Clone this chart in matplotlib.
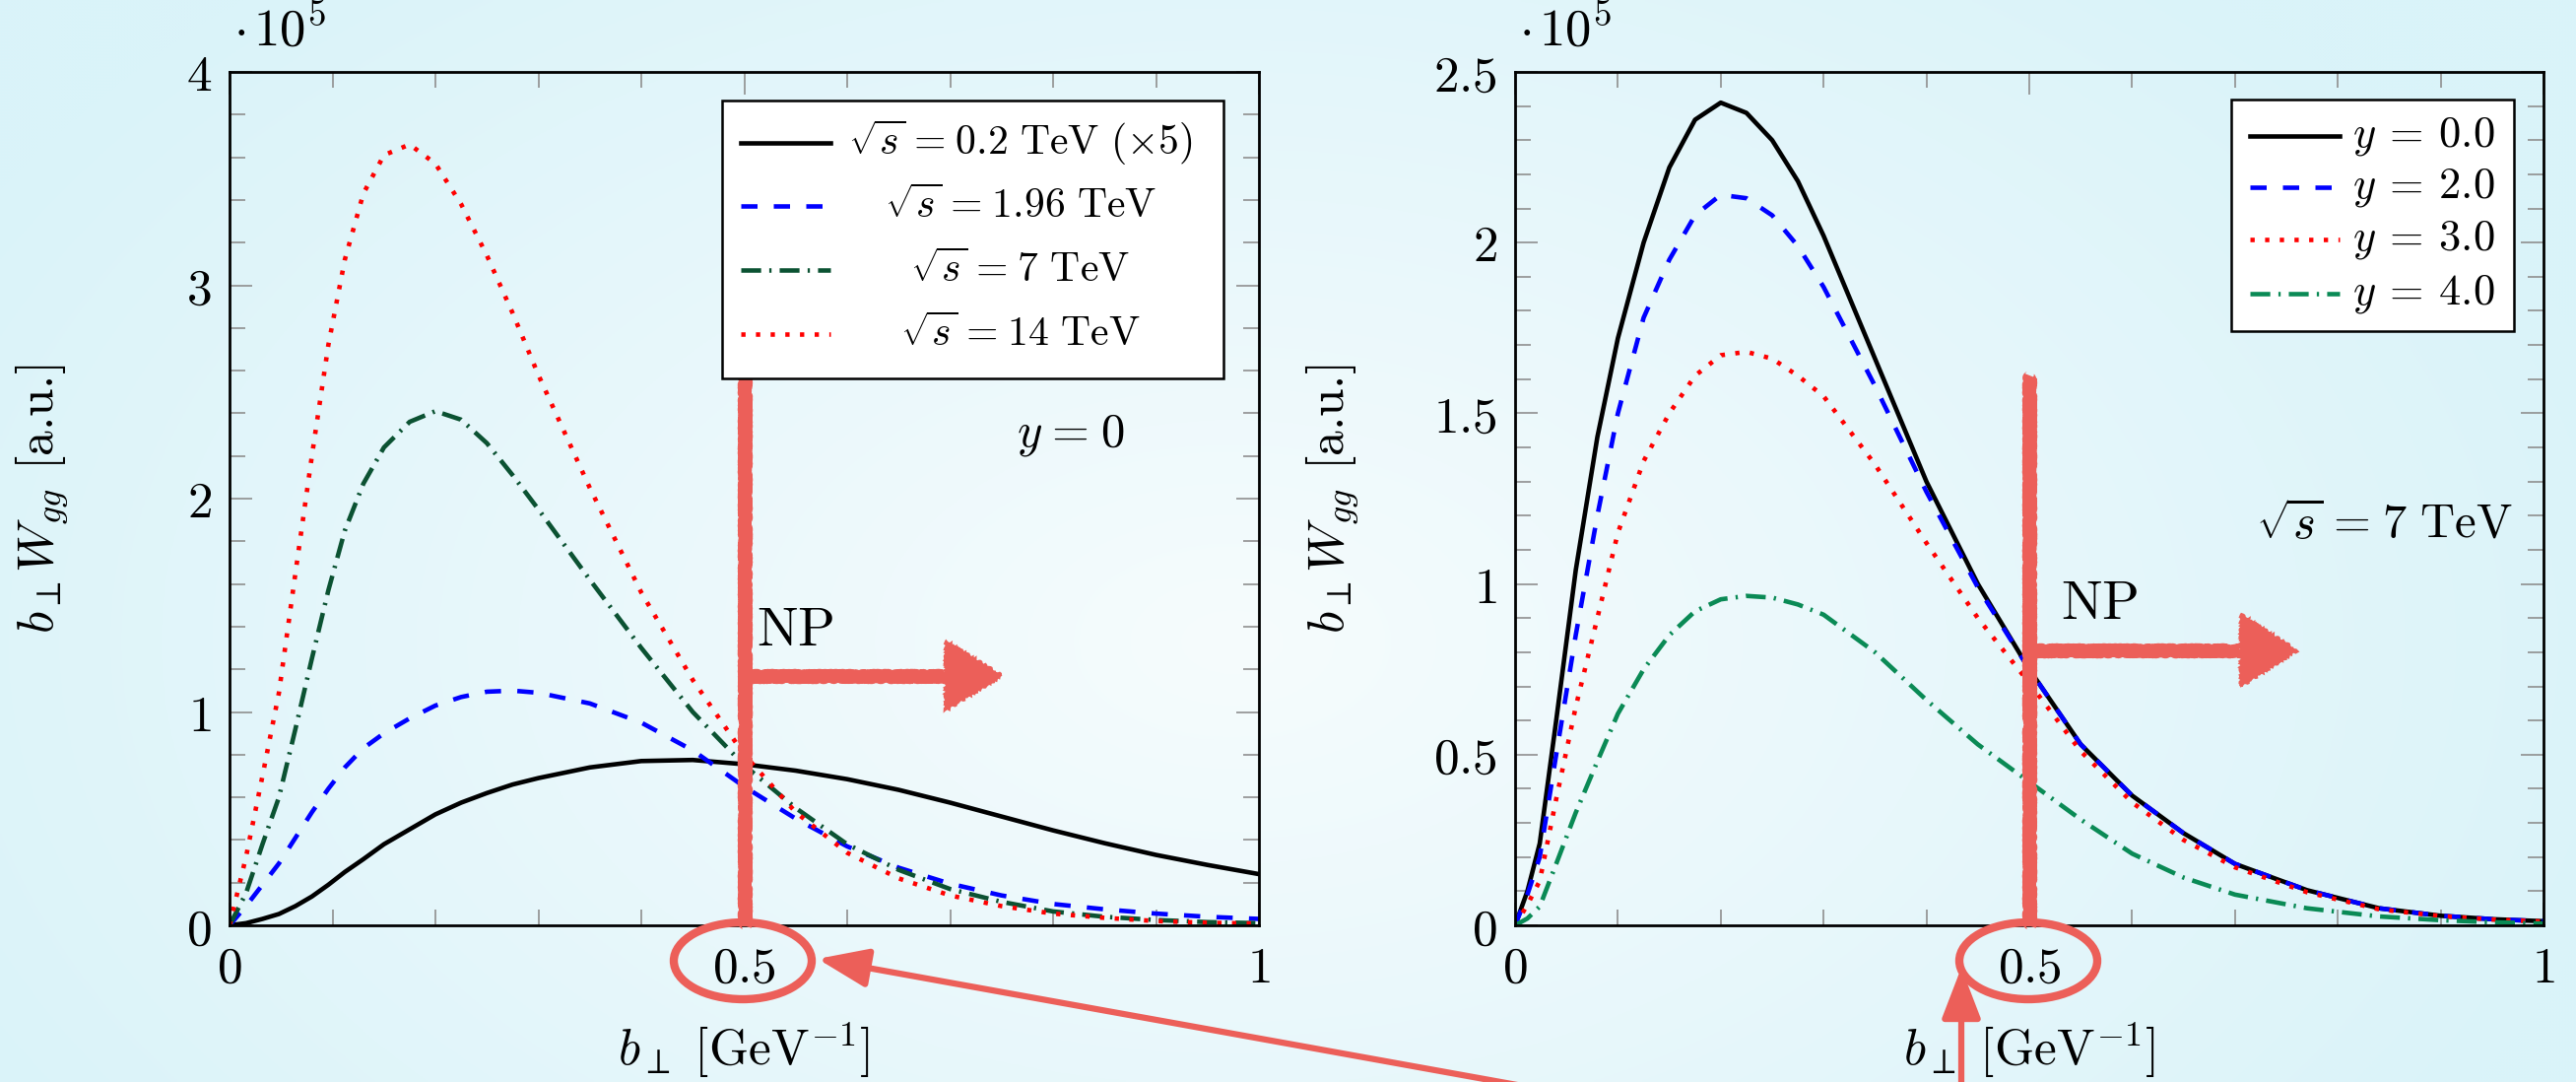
import numpy as np
import matplotlib.pyplot as plt
from matplotlib.patches import Ellipse, Rectangle, Polygon

plt.rcParams['mathtext.fontset'] = 'cm'
plt.rcParams['font.family'] = 'serif'
plt.rcParams['font.serif'] = ['DejaVu Serif']

########################################Dados###########################################################################
# b_perp [GeV^-1], b_perp W_gg em unidades de 1e5
b_left = [0, 0.016, 0.032, 0.048, 0.064, 0.08, 0.096, 0.112, 0.13, 0.15, 0.175, 0.2, 0.225, 0.25, 0.275, 0.3,
          0.35, 0.4, 0.45, 0.5, 0.55, 0.6, 0.65, 0.7, 0.75, 0.8, 0.85, 0.9, 0.95, 1.0]
W_02 = [0, 0.01, 0.03, 0.053, 0.09, 0.135, 0.19, 0.25, 0.31, 0.38, 0.45, 0.52, 0.575, 0.62, 0.66, 0.69,
        0.74, 0.77, 0.775, 0.755, 0.725, 0.685, 0.635, 0.575, 0.51, 0.445, 0.385, 0.33, 0.283, 0.24]
W_196 = [0, 0.09, 0.19, 0.29, 0.41, 0.53, 0.64, 0.74, 0.83, 0.9, 0.97, 1.03, 1.07, 1.095, 1.1, 1.09,
         1.04, 0.95, 0.82, 0.65, 0.5, 0.37, 0.27, 0.195, 0.14, 0.1, 0.075, 0.055, 0.04, 0.03]
W_7 = [0, 0.15, 0.38, 0.6, 0.92, 1.25, 1.57, 1.85, 2.07, 2.24, 2.36, 2.41, 2.37, 2.26, 2.11, 1.95,
       1.62, 1.3, 1.0, 0.75, 0.55, 0.38, 0.26, 0.17, 0.11, 0.065, 0.04, 0.025, 0.015, 0.01]
W_14 = [0, 0.32, 0.7, 1.09, 1.65, 2.2, 2.72, 3.12, 3.43, 3.61, 3.66, 3.57, 3.38, 3.14, 2.87, 2.58,
        2.05, 1.56, 1.15, 0.8, 0.53, 0.34, 0.22, 0.14, 0.09, 0.055, 0.035, 0.02, 0.012, 0.008]

b_right = [0, 0.012, 0.024, 0.04, 0.059, 0.08, 0.1, 0.125, 0.15, 0.175, 0.2, 0.225, 0.25, 0.275, 0.3,
           0.35, 0.4, 0.45, 0.5, 0.55, 0.6, 0.65, 0.7, 0.77, 0.84, 0.9, 0.95, 1.0]
W_y0 = [0, 0.1, 0.24, 0.6, 1.04, 1.43, 1.72, 2.0, 2.22, 2.36, 2.41, 2.38, 2.3, 2.18, 2.02,
        1.66, 1.3, 1.0, 0.75, 0.53, 0.38, 0.27, 0.18, 0.103, 0.05, 0.028, 0.018, 0.012]
W_y2 = [0, 0.09, 0.2, 0.5, 0.85, 1.2, 1.5, 1.78, 1.95, 2.08, 2.14, 2.13, 2.08, 1.99, 1.87,
        1.58, 1.27, 0.99, 0.75, 0.53, 0.38, 0.27, 0.18, 0.103, 0.05, 0.028, 0.018, 0.012]
W_y3 = [0, 0.06, 0.13, 0.37, 0.64, 0.9, 1.15, 1.36, 1.5, 1.61, 1.67, 1.68, 1.66, 1.61, 1.55,
        1.35, 1.12, 0.9, 0.71, 0.51, 0.36, 0.25, 0.17, 0.097, 0.047, 0.027, 0.017, 0.011]
W_y4 = [0, 0.02, 0.055, 0.18, 0.33, 0.48, 0.62, 0.75, 0.85, 0.92, 0.955, 0.965, 0.96, 0.94, 0.91,
        0.8, 0.66, 0.53, 0.42, 0.31, 0.21, 0.14, 0.09, 0.05, 0.026, 0.015, 0.009, 0.005]

eq = r'\hspace{0.08}=\hspace{0.08}'
eq_wide = r'\hspace{0.2}=\hspace{0.2}'
labels_left = [r'$\sqrt{s}' + eq + r'0.2\ \mathrm{TeV}\ (\times 5)$', r'$\sqrt{s}' + eq + r'1.96\ \mathrm{TeV}$',
               r'$\sqrt{s}' + eq + r'7\ \mathrm{TeV}$', r'$\sqrt{s}' + eq + r'14\ \mathrm{TeV}$']
labels_right = [r'$y' + eq_wide + r'0.0$', r'$y' + eq_wide + r'2.0$', r'$y' + eq_wide + r'3.0$',
                r'$y' + eq_wide + r'4.0$']

# limite nao perturbativo (NP)
b_NP = 0.5
########################################################################################################################

W, H = 2615, 1098
red_np = '#ec5f59'
lw = 3.3
st_black = dict(color='black', lw=lw, ls='-')
st_blue = dict(color='#0000ff', lw=lw, ls=(0, (3.6, 3.6)))
st_red = dict(color='#ff0000', lw=lw, ls=(0, (0.95, 2.3)))
st_dgreen = dict(color='#0b5232', lw=lw, ls=(0, (4.4, 1.8, 0.5, 1.8)))
st_green = dict(color='#0a8a55', lw=lw, ls=(0, (4.4, 1.8, 0.5, 1.8)))

fig = plt.figure(figsize=(W / 100, H / 100), dpi=100)

# fundo em degrade
bg = fig.add_axes([0, 0, 1, 1], zorder=-10)
yy, xx = np.mgrid[0:H:3, 0:W:3]
r = np.clip(np.sqrt(((xx - 1250) / 1450) ** 2 + ((yy - 650) / 900) ** 2), 0, 1)
c_in = np.array([246, 252, 253]) / 255
c_out = np.array([218, 243, 249]) / 255
bg.imshow(c_in + (c_out - c_in) * r[..., None], extent=[0, W, H, 0], aspect='auto')
bg.set_xlim(0, W)
bg.set_ylim(H, 0)
bg.axis('off')

ax1 = fig.add_axes([233 / W, 1 - 939 / H, 1045 / W, 866 / H])
ax2 = fig.add_axes([1538 / W, 1 - 939 / H, 1044 / W, 866 / H])


def style_axes(ax, ymax, ymajor, yminor, yticklabels):
    ax.set_facecolor('none')
    ax.set_xlim(0, 1)
    ax.set_ylim(0, ymax)
    for s in ax.spines.values():
        s.set_linewidth(2)
    ax.set_xticks([0, 0.5, 1], [r'$0$', r'$0.5$', r'$1$'])
    ax.set_xticks(np.arange(0, 1.001, 0.1), minor=True)
    ax.set_yticks(np.arange(0, ymax + 1e-9, ymajor), yticklabels)
    ax.set_yticks(np.arange(0, ymax + 1e-9, yminor), minor=True)
    ax.tick_params(which='both', direction='in', top=True, right=True, color='#8f8f8f', width=1.2, labelsize=37)
    ax.tick_params(which='major', length=16.5)
    ax.tick_params(which='minor', length=11.5)
    ax.tick_params(axis='x', pad=14)
    ax.tick_params(axis='y', pad=13)
    ax.annotate(r'$\cdot\hspace{0.12}10^{5}$', xy=(0, 1), xycoords='axes fraction', xytext=(3, 11),
                textcoords='offset points', ha='left', va='bottom', fontsize=38)


def draw_legend(ax, box, rows, handle_x, text_x, text_ha, styles, labels, fs):
    ax.add_patch(Rectangle((box[0], box[1]), box[2] - box[0], box[3] - box[1], transform=ax.transAxes,
                           facecolor='white', edgecolor='black', lw=1.8, zorder=5))
    for yr, st, lab in zip(rows, styles, labels):
        ax.plot(handle_x, [yr, yr], transform=ax.transAxes, zorder=6, clip_on=False, **st)
        ax.text(text_x, yr, lab, transform=ax.transAxes, ha=text_ha, va='center', fontsize=fs, zorder=6)


def draw_np(ax, ytop, yarrow, xhead, xtip, half):
    # faixa NP em "giz"
    l1, = ax.plot([b_NP, b_NP], [0, ytop], color=red_np, lw=9.5, solid_capstyle='butt', zorder=4, clip_on=False)
    l2, = ax.plot([b_NP, xhead], [yarrow, yarrow], color=red_np, lw=9.5, solid_capstyle='butt', zorder=4)
    head = Polygon([[xhead, yarrow + half], [xhead, yarrow - half], [xtip, yarrow]], closed=True,
                   facecolor=red_np, edgecolor=red_np, lw=2, zorder=4)
    ax.add_patch(head)
    for art in (l1, l2, head):
        art.set_sketch_params(scale=1.2, length=5, randomness=4)


###########################################Painel esquerdo##############################################################
style_axes(ax1, 4, 1, 0.2, [r'$0$', r'$1$', r'$2$', r'$3$', r'$4$'])
ax1.plot(b_left, W_02, **st_black)
ax1.plot(b_left, W_196, **st_blue)
ax1.plot(b_left, W_7, **st_dgreen)
ax1.plot(b_left, W_14, **st_red)
draw_legend(ax1, (0.478, 0.641, 0.966, 0.9665), [0.917, 0.843, 0.768, 0.693], [0.497, 0.584], 0.768, 'center',
            [st_black, st_blue, st_dgreen, st_red], labels_left, 30)
ax1.text(0.817, 2.3, r'$y' + eq + r'0$', ha='center', va='center', fontsize=35)
draw_np(ax1, 2.58, 1.17, 0.696, 0.75, 0.16)
ax1.text(0.512, 1.31, r'$\mathrm{NP}$', ha='left', va='baseline', fontsize=40)

###########################################Painel direito###############################################################
style_axes(ax2, 2.5, 0.5, 0.1, [r'$0$', r'$0.5$', r'$1$', r'$1.5$', r'$2$', r'$2.5$'])
ax2.plot(b_right, W_y0, **st_black)
ax2.plot(b_right, W_y2, **st_blue)
ax2.plot(b_right, W_y3, **st_red)
ax2.plot(b_right, W_y4, **st_green)
draw_legend(ax2, (0.696, 0.696, 0.971, 0.968), [0.925, 0.865, 0.804, 0.740], [0.715, 0.802], 0.814, 'left',
            [st_black, st_blue, st_red, st_green], labels_right, 32)
ax2.text(0.845, 1.175, r'$\sqrt{s}' + eq + r'7\ \mathrm{TeV}$', ha='center', va='center', fontsize=35)
draw_np(ax2, 1.61, 0.805, 0.706, 0.76, 0.104)
ax2.text(0.531, 0.898, r'$\mathrm{NP}$', ha='left', va='baseline', fontsize=40)

# rotulos dos eixos (texto fora do modo math em cmr10)
for ax, xl in ((ax1, 43), (ax2, 1353)):
    fig.text(xl / W, 1 - 506 / H, r'$b_\perp W_{gg}$ [a.u.]', rotation=90, ha='center', va='center',
             fontsize=37, family='cmr10')
for xc in (755, 2060):
    fig.text(xc / W, 1 - 1066 / H, r'$b_\perp\ [\mathrm{GeV}^{-1}]$', ha='center', va='center', fontsize=37)

###########################################Destaques em b = 0.5########################################################
ov = fig.add_axes([0, 0, 1, 1], zorder=10)
ov.set_xlim(0, W)
ov.set_ylim(H, 0)
ov.axis('off')
ov.patch.set_alpha(0)
for xc in (754, 2059):
    ov.add_patch(Ellipse((xc, 975), 140, 78, facecolor='none', edgecolor=red_np, lw=6))
for x0, y0, x1, y1 in ((1590, 1110, 830, 973), (1991, 1110, 1991, 982)):
    ov.annotate('', xy=(x1, y1), xytext=(x0, y0),
                arrowprops=dict(arrowstyle='-|>,head_length=1.3,head_width=0.5', color=red_np, lw=4.5,
                                mutation_scale=24, shrinkA=0, shrinkB=0))

fig.savefig('out.png', dpi=100)
